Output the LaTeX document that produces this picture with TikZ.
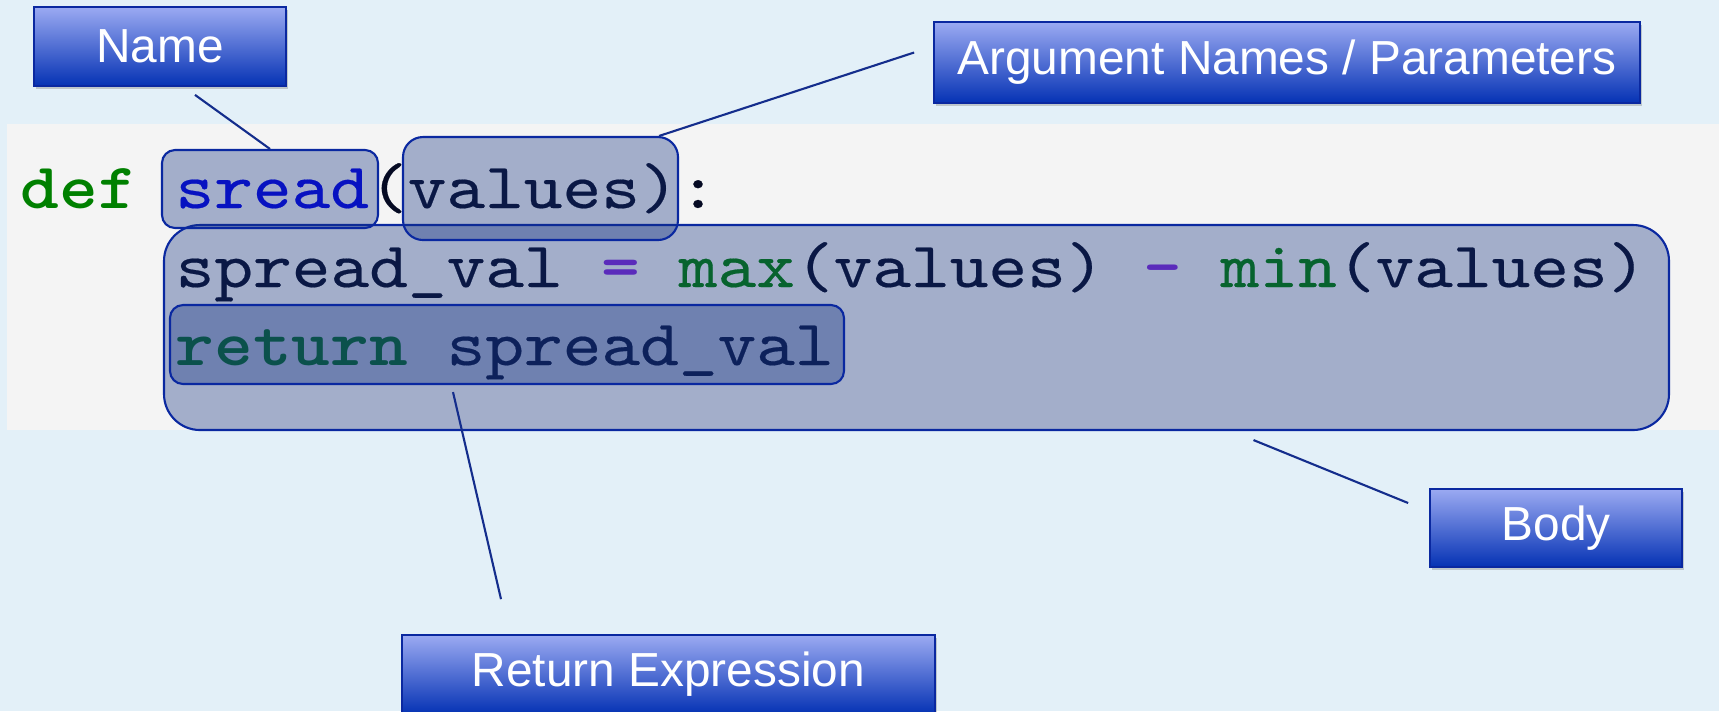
\documentclass[tikz,border=0pt]{standalone}
\usepackage{fontspec}
\usepackage{xcolor}
\setmainfont{Liberation Sans}
\newfontfamily\codefont{lmmono10-regular.otf}[FakeStretch=1.14, FakeBold=0.3]
\newfontfamily\codebold{lmmonolt10-bold.otf}[FakeStretch=1.14]
\usetikzlibrary{calc, shadows}
\definecolor{bgblue}{RGB}{227,240,248}
\definecolor{codegray}{RGB}{244,244,244}
\definecolor{codeink}{RGB}{5,10,35}
\definecolor{kwgreen}{RGB}{0,128,0}
\definecolor{fnblue}{RGB}{0,0,230}
\definecolor{oppurple}{RGB}{130,40,220}
\definecolor{hlnavy}{RGB}{20,50,130}
\definecolor{hlline}{RGB}{10,40,160}
\definecolor{tagtop}{RGB}{155,170,242}
\definecolor{tagmid}{RGB}{100,122,222}
\definecolor{tagbot}{RGB}{5,50,180}
\definecolor{lineblue}{RGB}{20,45,140}
\newcommand{\kwd}[1]{{\codebold\color{kwgreen}#1}}
\newcommand{\opr}[1]{{\codebold\color{oppurple}#1}}

\begin{document}
\begin{tikzpicture}[
    x=0.1mm, y=-0.1mm,
    tagbox/.style={rectangle, draw=hlline, line width=0.5pt, top color=tagtop, middle color=tagmid, bottom color=tagbot,
        text=white, inner sep=0pt, font=\fontsize{13.6}{16}\selectfont,
        drop shadow={shadow xshift=0.6pt, shadow yshift=-0.9pt, opacity=0.3, fill=black!60}},
    hlbox/.style={rectangle, draw=hlline, line width=0.6pt, fill=hlnavy, fill opacity=0.36, inner sep=0pt},
    codeline/.style={anchor=base west, inner sep=0pt, text=codeink, font=\codefont\fontsize{18.4}{20}\selectfont},
    callout/.style={draw=lineblue, line width=0.6pt}
]

% Background
\useasboundingbox (0,0) rectangle (1719,711);
\fill[bgblue] (0,0) rectangle (1719,711);
\fill[codegray] (7,124) rectangle (1719,430);

% Code
\node[codeline] (line1) at (20,208) {\kwd{def} {\color{fnblue}sread}(values):};
\node[codeline] (line2) at (175,287) {spread\_val \opr{=} {\color{kwgreen}max}(values) \opr{-} {\color{kwgreen}min}(values)};
\node[codeline] (line3) at (175,365) {\kwd{return} spread\_val};

% Highlights
\node[hlbox, minimum width=15.05cm, minimum height=2.05cm, rounded corners=0.36cm] (body) at (916.5,327.5) {};
\node[hlbox, minimum width=2.16cm, minimum height=0.78cm, rounded corners=0.13cm] (sread) at (270,189) {};
\node[hlbox, minimum width=2.75cm, minimum height=1.03cm, rounded corners=0.2cm] (values) at (540.5,188.5) {};
\node[hlbox, minimum width=6.74cm, minimum height=0.79cm, rounded corners=0.13cm] (ret) at (507,344.5) {};

% Labels
\node[tagbox, minimum width=2.52cm, minimum height=0.79cm] (name) at (160,46.5) {Name};
\node[tagbox, minimum width=7.06cm, minimum height=0.81cm] (arg) at (1287,62.5) {Argument Names / Parameters};
\node[tagbox, minimum width=2.52cm, minimum height=0.78cm] (bodytag) at (1556,528) {Body};
\node[tagbox, minimum width=5.33cm, minimum height=0.79cm] (rettag) at (668.5,674.5) {Return Expression};

% Callouts
\draw[callout] ($(name.south)+(35,8)$) -- (sread.north);
\draw[callout] ($(values.north east)+(-20,0)$) -- ($(arg.west)+(-19,-10)$);
\draw[callout] ($(body.south)+(337,9)$) -- ($(bodytag.west)+(-21,-25)$);
\draw[callout] ($(ret.south)+(-54,7)$) -- ($(rettag.north)+(-167.5,-35)$);

\end{tikzpicture}
\end{document}
